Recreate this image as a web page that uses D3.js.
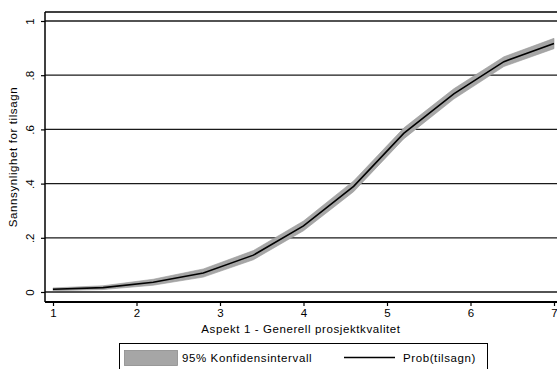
<!DOCTYPE html>
<html>
<head>
<meta charset="utf-8">
<script src="https://cdn.jsdelivr.net/npm/d3@7"></script>
<style>
  html, body { margin: 0; padding: 0; background: #fff; }
  svg { display: block; font-family: "Liberation Sans", Arial, sans-serif; }
</style>
</head>
<body>
<svg id="chart" width="557" height="369"></svg>
<script>
// Predicted probability of a grant over the project-quality score
const aspekt = [1, 1.6, 2.2, 2.8, 3.4, 4, 4.6, 5.2, 5.8, 6.4, 7];
const prob   = [0.010, 0.016, 0.036, 0.070, 0.136, 0.244, 0.390, 0.585, 0.731, 0.850, 0.917];
const ciLow  = [0.005, 0.009, 0.025, 0.055, 0.119, 0.226, 0.370, 0.565, 0.712, 0.832, 0.898];
const ciHigh = [0.015, 0.023, 0.047, 0.085, 0.153, 0.262, 0.410, 0.605, 0.750, 0.868, 0.936];
const xTicks = [1, 2, 3, 4, 5, 6, 7];
const yTicks = [0, 0.2, 0.4, 0.6, 0.8, 1];
const yTickLabels = ["0", ".2", ".4", ".6", ".8", "1"];

const rows = aspekt.map((a, i) => ({ a, p: prob[i], lo: ciLow[i], hi: ciHigh[i] }));

const svg = d3.select("#chart");
const plot = { left: 45, right: 557, top: 12, bottom: 302 };
const fontSize = 11.5;
const spacing = "0.6px";

const x = d3.scaleLinear().domain([1, 7]).range([53, 554]);
const y = d3.scaleLinear().domain([0, 1]).range([292, 21]);

// Plot region frame (top edge)
svg.append("line")
  .attr("x1", plot.left).attr("x2", plot.right)
  .attr("y1", plot.top).attr("y2", plot.top)
  .attr("stroke", "#000").attr("stroke-width", 1.3);

// Horizontal grid lines
svg.append("g").selectAll("line").data(yTicks).join("line")
  .attr("x1", plot.left).attr("x2", plot.right)
  .attr("y1", d => y(d)).attr("y2", d => y(d))
  .attr("stroke", "#1a1a1a").attr("stroke-width", 1.3);

// Confidence band
svg.append("path")
  .datum(rows)
  .attr("d", d3.area().x(d => x(d.a)).y0(d => y(d.lo)).y1(d => y(d.hi)))
  .attr("fill", "#a6a6a6")
  .attr("stroke", "#999")
  .attr("stroke-width", 0.6);

// Predicted probability
svg.append("path")
  .datum(rows)
  .attr("d", d3.line().x(d => x(d.a)).y(d => y(d.p)))
  .attr("fill", "none")
  .attr("stroke", "#000")
  .attr("stroke-width", 1.6);

// Y axis
const yAxis = svg.append("g")
  .attr("transform", `translate(${plot.left},0)`)
  .call(d3.axisLeft(y).tickValues(yTicks).tickSize(4).tickSizeOuter(0)
    .tickFormat((d, i) => yTickLabels[i]));
yAxis.select(".domain").attr("d", `M0,${plot.top}V${plot.bottom}`)
  .attr("stroke", "#000").attr("stroke-width", 1.5);
yAxis.selectAll(".tick line").attr("stroke", "#000").attr("stroke-width", 1.2);
yAxis.selectAll(".tick text")
  .attr("transform", "rotate(-90)")
  .attr("x", 0).attr("y", -11)
  .attr("dy", 0)
  .attr("text-anchor", "middle")
  .attr("font-size", fontSize)
  .attr("fill", "#000")
  .attr("font-family", "Liberation Sans, Arial, sans-serif");

// X axis
const xAxis = svg.append("g")
  .attr("transform", `translate(0,${plot.bottom})`)
  .call(d3.axisBottom(x).tickValues(xTicks).tickSize(4).tickSizeOuter(0)
    .tickFormat(d3.format("d")));
xAxis.select(".domain").attr("d", `M${plot.left},0H${plot.right}`)
  .attr("stroke", "#000").attr("stroke-width", 2);
xAxis.selectAll(".tick line").attr("stroke", "#000").attr("stroke-width", 1.2);
xAxis.selectAll(".tick text")
  .attr("y", 7)
  .attr("font-size", fontSize)
  .attr("fill", "#000")
  .attr("font-family", "Liberation Sans, Arial, sans-serif");

// Axis titles
svg.append("text")
  .attr("x", (plot.left + plot.right) / 2).attr("y", 333)
  .attr("text-anchor", "middle")
  .attr("font-size", fontSize)
  .style("letter-spacing", spacing)
  .text("Aspekt 1 - Generell prosjektkvalitet");

svg.append("text")
  .attr("transform", `translate(17,${(plot.top + plot.bottom) / 2}) rotate(-90)`)
  .attr("text-anchor", "middle")
  .attr("font-size", fontSize)
  .style("letter-spacing", spacing)
  .text("Sannsynlighet for tilsagn");

// Legend
const legend = svg.append("g");
legend.append("rect")
  .attr("x", 119.5).attr("y", 343.5).attr("width", 368).attr("height", 30)
  .attr("fill", "#fff").attr("stroke", "#000").attr("stroke-width", 1);
legend.append("rect")
  .attr("x", 124.5).attr("y", 350.5).attr("width", 53).attr("height", 15)
  .attr("fill", "#a6a6a6").attr("stroke", "#8c8c8c").attr("stroke-width", 0.8);
legend.append("text")
  .attr("x", 182).attr("y", 362).attr("font-size", fontSize)
  .style("letter-spacing", spacing)
  .text("95% Konfidensintervall");
legend.append("line")
  .attr("x1", 344).attr("x2", 395).attr("y1", 357.5).attr("y2", 357.5)
  .attr("stroke", "#000").attr("stroke-width", 1.4);
legend.append("text")
  .attr("x", 403).attr("y", 362).attr("font-size", fontSize)
  .style("letter-spacing", spacing)
  .text("Prob(tilsagn)");
</script>
</body>
</html>
